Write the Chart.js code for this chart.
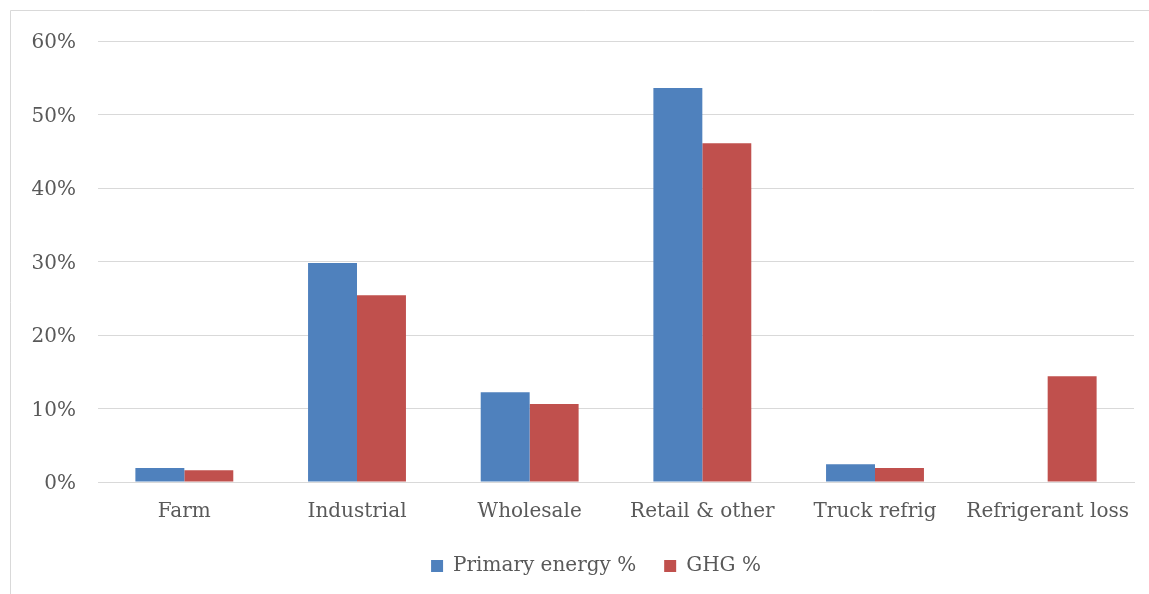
<!DOCTYPE html>
<html>
<head>
<meta charset="utf-8">
<script src="https://cdn.jsdelivr.net/npm/chart.js@4"></script>
<style>
  html, body { margin: 0; padding: 0; background: #fff; overflow: hidden; }
  #wrap { position: absolute; left: 0; top: 0; width: 1149px; height: 594px; overflow: hidden; }
  #chart { display: block; }
</style>
</head>
<body>
<div id="wrap"><canvas id="chart" width="1160" height="594"></canvas></div>
<script>
const categories = ['Farm', 'Industrial', 'Wholesale', 'Retail & other', 'Truck refrig', 'Refrigerant loss']
const primaryEnergy = [1.9, 29.8, 12.2, 53.6, 2.4, 0]
const ghg = [1.6, 25.4, 10.6, 46.1, 1.9, 14.4]
const yTicks = [0, 10, 20, 30, 40, 50, 60]

const textColor = '#595959'
const gridColor = '#d9d9d9'
const fontFamily = '"DejaVu Serif", "Liberation Serif", serif'

// light frame round the chart, cut off at right and bottom like the source
const framePlugin = {
  id: 'frame',
  beforeDraw (chart) {
    const ctx = chart.ctx
    ctx.save()
    ctx.fillStyle = '#fff'
    ctx.fillRect(0, 0, chart.width, chart.height)
    ctx.strokeStyle = gridColor
    ctx.lineWidth = 1
    ctx.beginPath()
    ctx.moveTo(10.5, chart.height)
    ctx.lineTo(10.5, 10.5)
    ctx.lineTo(chart.width, 10.5)
    ctx.stroke()
    ctx.restore()
  }
}

// nudge the legend box a little right, the source centres it on the frame
const legendShift = {
  id: 'legendShift',
  afterLayout (chart) {
    chart.legend.left += 29
    chart.legend.right += 29
  }
}

Chart.defaults.font.family = fontFamily
Chart.defaults.color = textColor

new Chart(document.getElementById('chart').getContext('2d'), {
  type: 'bar',
  data: {
    labels: categories,
    datasets: [
      { label: 'Primary energy %', data: primaryEnergy, backgroundColor: '#4f81bd' },
      { label: 'GHG %', data: ghg, backgroundColor: '#c0504d' }
    ]
  },
  options: {
    responsive: false,
    animation: false,
    devicePixelRatio: 1,
    layout: { padding: { left: 0, right: 26, top: 41, bottom: 8 } },
    datasets: {
      bar: { categoryPercentage: 0.567, barPercentage: 1 }
    },
    scales: {
      x: {
        grid: { display: false },
        border: { color: gridColor, width: 1 },
        ticks: { font: { size: 20 }, color: textColor, padding: 10, maxRotation: 0, autoSkip: false },
        afterFit (scale) { scale.height = 46 }
      },
      y: {
        min: 0,
        max: 60,
        afterBuildTicks (scale) { scale.ticks = yTicks.map(v => ({ value: v })) },
        grid: { color: gridColor, lineWidth: 1, drawTicks: false },
        border: { display: false },
        ticks: {
          font: { size: 20 },
          color: textColor,
          padding: 22,
          labelOffset: 2,
          callback: v => v + '%'
        },
        afterFit (scale) { scale.width = 98 }
      }
    },
    plugins: {
      legend: {
        position: 'bottom',
        labels: {
          boxWidth: 12,
          boxHeight: 12,
          padding: 28,
          font: { size: 20 },
          color: textColor
        }
      },
      tooltip: { enabled: false }
    }
  },
  plugins: [framePlugin, legendShift]
})
</script>
</body>
</html>
